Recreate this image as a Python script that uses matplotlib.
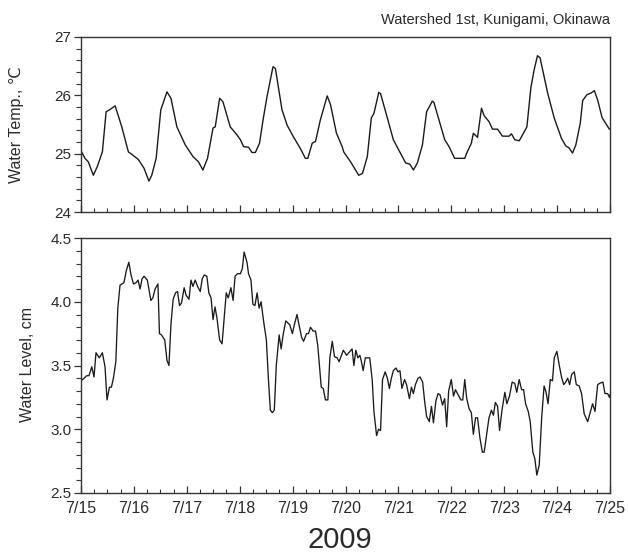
import matplotlib
matplotlib.use("Agg")
import matplotlib.pyplot as plt
from matplotlib.ticker import MultipleLocator
import numpy as np

plt.rcParams['font.family'] = ['Liberation Sans', 'DejaVu Sans']

# Hours since 2009-07-15 00:00 and water temperature (deg C)
temp_hours = [0.0, 1.8, 3.3, 5.6, 7.4, 9.7, 11.4, 12.9, 15.5, 18.5, 21.5, 23.0, 26.0, 28.6, 30.8,
              32.1, 34.1, 36.2, 39.0, 40.8, 43.5, 47.3, 50.8, 53.3, 55.3, 57.4, 59.9, 60.9, 62.9,
              64.4, 67.7, 70.8, 72.3, 73.8, 76.0, 77.6, 79.1, 81.0, 82.6, 84.4, 87.1, 88.2, 91.2,
              93.5, 96.2, 99.5, 101.8, 102.9, 104.9, 106.4, 108.6, 111.7, 113.2, 115.9, 118.5,
              119.2, 122.3, 126.0, 127.7, 129.9, 131.7, 132.9, 135.1, 135.9, 139.0, 141.7, 144.2,
              147.3, 149.2, 150.8, 152.6, 154.9, 156.8, 159.4, 160.1, 162.4, 165.0, 167.0, 169.5,
              174.1, 175.0, 177.1, 178.0, 179.9, 181.7, 182.9, 185.1, 186.7, 189.0, 191.2, 194.2,
              195.3, 196.8, 198.8, 200.0, 202.3, 204.1, 205.6, 207.1, 208.3, 211.7, 214.7, 218.0,
              220.0, 221.4, 223.0, 224.5, 226.5, 227.6, 229.5, 231.4, 232.9, 234.4, 236.4, 238.2,
              239.7, 240.0]
temp_values = [25.05, 24.92, 24.86, 24.63, 24.78, 25.03, 25.72, 25.75, 25.82, 25.46, 25.03, 24.99,
               24.90, 24.75, 24.53, 24.63, 24.92, 25.75, 26.06, 25.95, 25.46, 25.15, 24.95, 24.86,
               24.72, 24.92, 25.44, 25.46, 25.95, 25.89, 25.46, 25.32, 25.24, 25.12, 25.11, 25.02,
               25.02, 25.18, 25.58, 25.98, 26.49, 26.46, 25.75, 25.49, 25.30, 25.09, 24.92, 24.92,
               25.18, 25.21, 25.58, 25.99, 25.84, 25.35, 25.12, 25.03, 24.86, 24.63, 24.66, 24.95,
               25.61, 25.69, 26.05, 26.03, 25.61, 25.24, 25.06, 24.84, 24.82, 24.72, 24.84, 25.15,
               25.72, 25.90, 25.88, 25.58, 25.24, 25.12, 24.92, 24.92, 25.01, 25.18, 25.35, 25.28,
               25.78, 25.65, 25.55, 25.42, 25.42, 25.30, 25.30, 25.34, 25.24, 25.22, 25.30, 25.46,
               26.13, 26.44, 26.68, 26.64, 26.04, 25.61, 25.26, 25.13, 25.10, 25.01, 25.15, 25.52,
               25.91, 26.01, 26.04, 26.08, 25.92, 25.62, 25.51, 25.42, 25.42]

# Hours since 2009-07-15 00:00 and water level (cm)
level_hours = [0.0, 1.4, 2.6, 3.6, 4.9, 5.9, 6.8, 8.3, 9.7, 10.9, 11.8, 12.9, 13.8, 14.7, 15.8,
               16.7, 17.7, 19.5, 20.5, 21.7, 22.7, 23.8, 25.0, 25.9, 26.8, 27.7, 28.6, 30.1, 31.7,
               32.6, 33.6, 34.9, 35.6, 36.5, 38.0, 39.0, 39.9, 40.8, 41.8, 42.9, 43.8, 44.7, 45.6,
               46.8, 47.7, 49.0, 49.9, 50.8, 51.8, 52.9, 54.1, 55.0, 55.9, 57.1, 58.0, 59.0, 59.9,
               60.8, 61.7, 62.9, 64.0, 65.0, 65.9, 66.8, 68.0, 69.0, 69.9, 71.0, 72.3, 73.2, 74.0,
               75.3, 76.0, 77.1, 78.0, 78.9, 79.9, 80.8, 81.7, 82.9, 84.1, 85.0, 85.9, 86.8, 87.7,
               88.6, 89.9, 90.8, 91.7, 92.9, 94.7, 95.9, 96.8, 98.0, 98.9, 100.1, 101.0, 102.3,
               103.2, 104.1, 105.3, 106.4, 107.4, 109.0, 109.9, 110.9, 112.0, 112.9, 114.0, 115.0,
               116.2, 117.1, 119.0, 120.5, 122.0, 123.0, 123.8, 124.7, 125.6, 126.5, 127.1, 128.0,
               129.0, 131.0, 132.1, 132.9, 134.1, 135.0, 135.9, 136.8, 138.0, 139.0, 139.9, 140.8,
               141.7, 142.9, 143.8, 144.7, 145.6, 146.8, 147.7, 149.0, 149.9, 150.8, 151.7, 152.9,
               153.8, 155.0, 155.9, 156.8, 158.0, 159.0, 159.9, 161.0, 162.0, 162.9, 164.0, 165.0,
               165.9, 166.8, 168.0, 169.0, 169.9, 171.1, 172.3, 173.2, 174.1, 175.0, 176.1, 177.1,
               178.0, 179.0, 179.9, 181.0, 182.1, 182.9, 183.8, 185.1, 186.2, 187.1, 188.0, 189.0,
               189.9, 191.0, 192.3, 193.2, 194.4, 195.6, 196.8, 197.7, 198.8, 199.9, 200.8, 201.7,
               202.9, 203.8, 205.0, 205.9, 206.8, 207.9, 209.0, 210.1, 211.0, 211.9, 212.9, 213.9,
               214.7, 215.9, 217.0, 218.0, 219.0, 219.9, 220.8, 221.7, 222.6, 223.8, 224.7, 226.0,
               227.1, 228.3, 229.9, 231.0, 232.1, 233.2, 234.4, 235.3, 236.8, 237.7, 238.9, 239.8,
               240.0]
level_values = [3.38, 3.40, 3.42, 3.42, 3.49, 3.41, 3.60, 3.56, 3.60, 3.49, 3.23, 3.33, 3.33, 3.40,
                3.53, 3.95, 4.13, 4.15, 4.24, 4.31, 4.21, 4.14, 4.15, 4.17, 4.10, 4.18, 4.20, 4.17,
                4.01, 4.03, 4.10, 4.14, 3.75, 3.74, 3.70, 3.54, 3.50, 3.82, 4.02, 4.07, 4.08, 3.97,
                3.99, 4.11, 4.05, 4.02, 4.17, 4.12, 4.17, 4.12, 4.08, 4.18, 4.21, 4.20, 4.07, 4.03,
                3.86, 3.96, 3.87, 3.70, 3.67, 3.88, 4.07, 4.03, 4.11, 4.01, 4.20, 4.22, 4.22, 4.26,
                4.39, 4.31, 4.22, 4.17, 3.98, 3.97, 4.07, 3.95, 4.00, 3.84, 3.70, 3.40, 3.15, 3.13,
                3.15, 3.50, 3.74, 3.63, 3.74, 3.85, 3.82, 3.75, 3.82, 3.90, 3.82, 3.72, 3.69, 3.75,
                3.75, 3.80, 3.77, 3.77, 3.66, 3.33, 3.32, 3.23, 3.23, 3.56, 3.69, 3.57, 3.56, 3.53,
                3.62, 3.58, 3.61, 3.63, 3.50, 3.62, 3.56, 3.58, 3.54, 3.46, 3.56, 3.56, 3.39, 3.14,
                2.95, 3.00, 2.99, 3.39, 3.45, 3.40, 3.32, 3.40, 3.46, 3.48, 3.45, 3.46, 3.32, 3.39,
                3.35, 3.24, 3.33, 3.28, 3.35, 3.40, 3.41, 3.37, 3.22, 3.10, 3.06, 3.18, 3.05, 3.22,
                3.28, 3.27, 3.19, 3.24, 3.02, 3.30, 3.39, 3.26, 3.31, 3.27, 3.23, 3.23, 3.39, 3.24,
                3.16, 3.13, 2.96, 3.09, 3.09, 2.93, 2.82, 2.82, 2.93, 3.09, 3.15, 3.11, 3.21, 3.18,
                2.99, 3.15, 3.29, 3.20, 3.26, 3.37, 3.36, 3.29, 3.39, 3.31, 3.31, 3.20, 3.14, 3.06,
                2.82, 2.77, 2.64, 2.72, 3.09, 3.34, 3.29, 3.20, 3.39, 3.38, 3.56, 3.61, 3.50, 3.41,
                3.35, 3.37, 3.40, 3.35, 3.43, 3.45, 3.35, 3.34, 3.28, 3.12, 3.06, 3.13, 3.20, 3.14,
                3.35, 3.36, 3.37, 3.28, 3.28, 3.25, 3.27]

date_labels = ['7/15', '7/16', '7/17', '7/18', '7/19', '7/20', '7/21', '7/22', '7/23', '7/24', '7/25']
title_text = 'Watershed 1st, Kunigami, Okinawa'
year_text = '2009'

fig = plt.figure(figsize=(6.28, 5.56), dpi=100)
ax1 = fig.add_axes([81/628, 1-212/556, 529/628, 175/556])
ax2 = fig.add_axes([81/628, 1-493/556, 529/628, 255/556])

line_color = '#1a1a1a'
text_color = '#2a2a2a'
td = np.array(temp_hours) / 24.0
ld = np.array(level_hours) / 24.0
ax1.plot(td, temp_values, color=line_color, lw=1.0)
ax2.plot(ld, level_values, color=line_color, lw=0.95)

for ax in (ax1, ax2):
    ax.set_xlim(0, 10)
    ax.xaxis.set_major_locator(MultipleLocator(1))
    ax.xaxis.set_minor_locator(MultipleLocator(0.25))
    ax.tick_params(axis='x', which='major', direction='in', length=5, width=0.9, color='#333333')
    ax.tick_params(axis='x', which='minor', direction='in', length=3, width=0.8, color='#333333')
    ax.tick_params(axis='y', which='major', direction='out', length=5, width=0.9, color='#333333',
                   labelsize=11, pad=2, labelcolor=text_color)
    ax.tick_params(axis='y', which='minor', direction='out', length=3.5, width=0.8, color='#333333')
    for s in ax.spines.values():
        s.set_color('#333333')
        s.set_linewidth(1.0)

ax1.set_ylim(24, 27)
ax1.yaxis.set_minor_locator(MultipleLocator(0.2))
ax1.set_yticks([24, 25, 26, 27])
ax1.set_yticklabels(['24', '25', '26', '27'])
ax1.set_xticklabels([])

ax2.set_ylim(2.5, 4.5)
ax2.yaxis.set_minor_locator(MultipleLocator(0.1))
ax2.set_yticks([2.5, 3.0, 3.5, 4.0, 4.5])
ax2.set_yticklabels(['2.5', '3.0', '3.5', '4.0', '4.5'])
ax2.set_xticks(range(len(date_labels)))
ax2.set_xticklabels(date_labels, fontsize=11.5, color=text_color)
ax2.tick_params(axis='x', which='major', pad=6)

fig.text(610/628, 1-20/556, title_text, ha='right', va='center', fontsize=10.5, color=text_color)
fig.text(17/628, 1-125/556, 'Water Temp., ℃', rotation=90, ha='center', va='center',
         fontsize=11.5, color=text_color)
fig.text(27/628, 1-365/556, 'Water Level, cm', rotation=90, ha='center', va='center',
         fontsize=11.5, color=text_color)
fig.text(340/628, 1-540/556, year_text, ha='center', va='center', fontsize=21, color=text_color)

fig.savefig('out.png', dpi=100)
